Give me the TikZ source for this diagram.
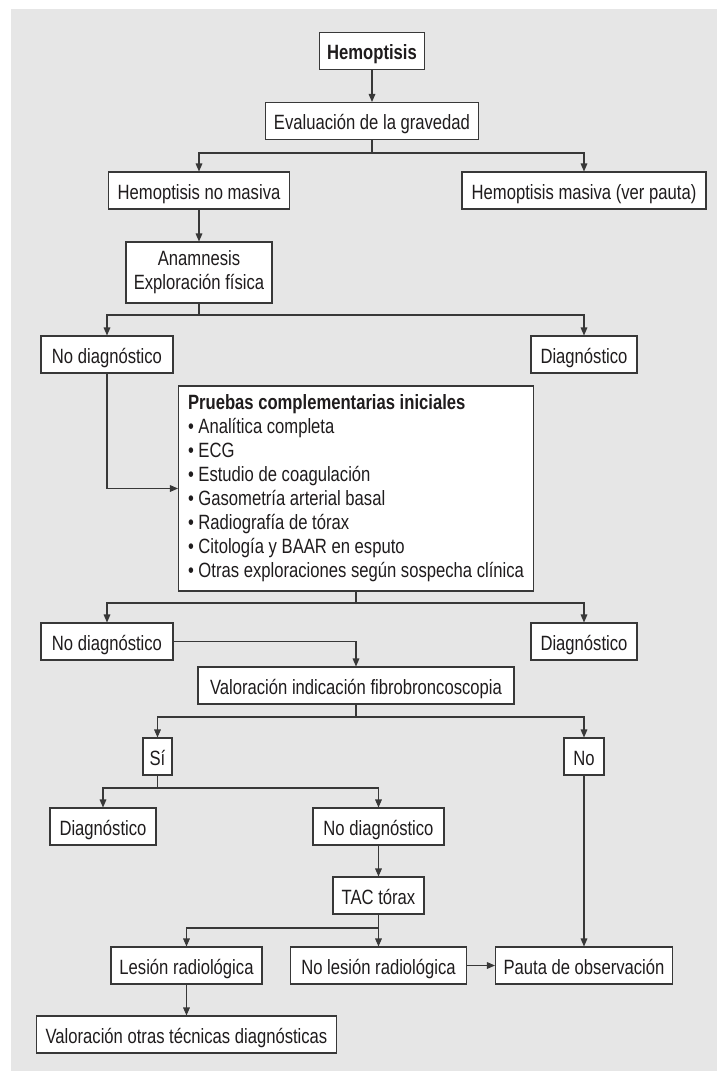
\documentclass[tikz,border=0pt]{standalone}
\usepackage{fontspec}
\setmainfont{Liberation Sans}[FakeStretch=0.805]
\usetikzlibrary{arrows.meta}
\definecolor{panelgray}{HTML}{E6E6E6}
\definecolor{ink}{HTML}{383838}
\definecolor{txt}{HTML}{1F1C1D}

\begin{document}
\begin{tikzpicture}[x=0.75pt, y=-0.75pt, font=\fontsize{15.5}{18}\selectfont, text=txt,
  tallbox/.style={draw=ink, fill=white, line width=0.8pt, inner sep=0pt,
    minimum width=#1*0.75pt},
  box/.style={tallbox=#1, minimum height=37*0.75pt, text height=16.8pt, text depth=4pt},
  conn/.style={draw=ink, line width=0.8pt},
  arr/.style={conn, -{Triangle[length=6pt,width=5pt]}}]
  % --- page and grey panel ---
  \fill[white] (0,0) rectangle (717,1071);
  \fill[panelgray] (11,9) rectangle (717,1071);
  % --- top: severity ---
  \node[box=105] (hemo) at (372,51) {\bfseries Hemoptisis};
  \node[box=213] (eval) at (372,121) {Evaluación de la gravedad};
  \node[box=181] (nomas) at (199,190.5) {Hemoptisis no masiva};
  \node[box=244] (mas) at (584,190.5) {Hemoptisis masiva (ver pauta)};
  \node[tallbox=146, minimum height=61*0.75pt, align=center] (anam) at (199,272.5)
    {Anamnesis\\Exploración física};
  \node[box=132] (nodxA) at (107,354.5) {No diagnóstico};
  \node[box=106] (dxA) at (584,354.5) {Diagnóstico};
  % --- initial tests ---
  \node[tallbox=355, minimum height=205*0.75pt, align=left] (prue) at (356,488.5)
    {{\bfseries Pruebas complementarias iniciales}\\
     • Analítica completa\\
     • ECG\\
     • Estudio de coagulación\\
     • Gasometría arterial basal\\
     • Radiografía de tórax\\
     • Citología y BAAR en esputo\\
     • Otras exploraciones según sospecha clínica};
  \node[box=132] (nodxB) at (107,641.5) {No diagnóstico};
  \node[box=106] (dxB) at (584,641.5) {Diagnóstico};
  % --- bronchoscopy ---
  \node[box=316] (valfib) at (356,685.5) {Valoración indicación fibrobroncoscopia};
  \node[box=29] (si) at (157.5,756.5) {Sí};
  \node[box=40] (no) at (584,756.5) {No};
  \node[box=106] (dxC) at (103,826.5) {Diagnóstico};
  \node[box=131] (nodxC) at (378.5,826.5) {No diagnóstico};
  \node[box=91] (tac) at (378.5,895.5) {TAC tórax};
  \node[box=151] (lesion) at (186.5,965.5) {Lesión radiológica};
  \node[box=176] (nolesion) at (378.5,965.5) {No lesión radiológica};
  \node[box=177] (pauta) at (584,965.5) {Pauta de observación};
  \node[box=300] (otras) at (186.5,1034.5) {Valoración otras técnicas diagnósticas};
  % --- branch points ---
  \coordinate (bEval) at (372,153);
  \coordinate (bAnam) at (199,315);
  \coordinate (bPrue) at (356,603);
  \coordinate (bVal) at (356,717);
  \coordinate (bSi) at (157.5,788);
  \coordinate (bTac) at (378.5,928);
  % --- connectors ---
  \draw[arr] (hemo) -- (eval);
  \draw[conn] (eval.south) -- (bEval);
  \draw[arr] (bEval) -| (nomas.north);
  \draw[arr] (bEval) -| (mas.north);
  \draw[arr] (nomas) -- (anam);
  \draw[conn] (anam.south) -- (bAnam);
  \draw[arr] (bAnam) -| (nodxA.north);
  \draw[arr] (bAnam) -| (dxA.north);
  \draw[arr] (nodxA.south) |- (prue.west);
  \draw[conn] (prue.south) -- (bPrue);
  \draw[arr] (bPrue) -| (nodxB.north);
  \draw[arr] (bPrue) -| (dxB.north);
  \draw[arr] (nodxB.east) -| (valfib.north);
  \draw[conn] (valfib.south) -- (bVal);
  \draw[arr] (bVal) -| (si.north);
  \draw[arr] (bVal) -| (no.north);
  \draw[conn] (si.south) -- (bSi);
  \draw[arr] (bSi) -| (dxC.north);
  \draw[arr] (bSi) -| (nodxC.north);
  \draw[arr] (nodxC) -- (tac);
  \draw[conn] (tac.south) -- (bTac);
  \draw[arr] (bTac) -| (lesion.north);
  \draw[arr] (bTac) -- (nolesion.north);
  \draw[arr] (no) -- (pauta);
  \draw[arr] (nolesion) -- (pauta);
  \draw[arr] (lesion) -- (otras);
\end{tikzpicture}
\end{document}
